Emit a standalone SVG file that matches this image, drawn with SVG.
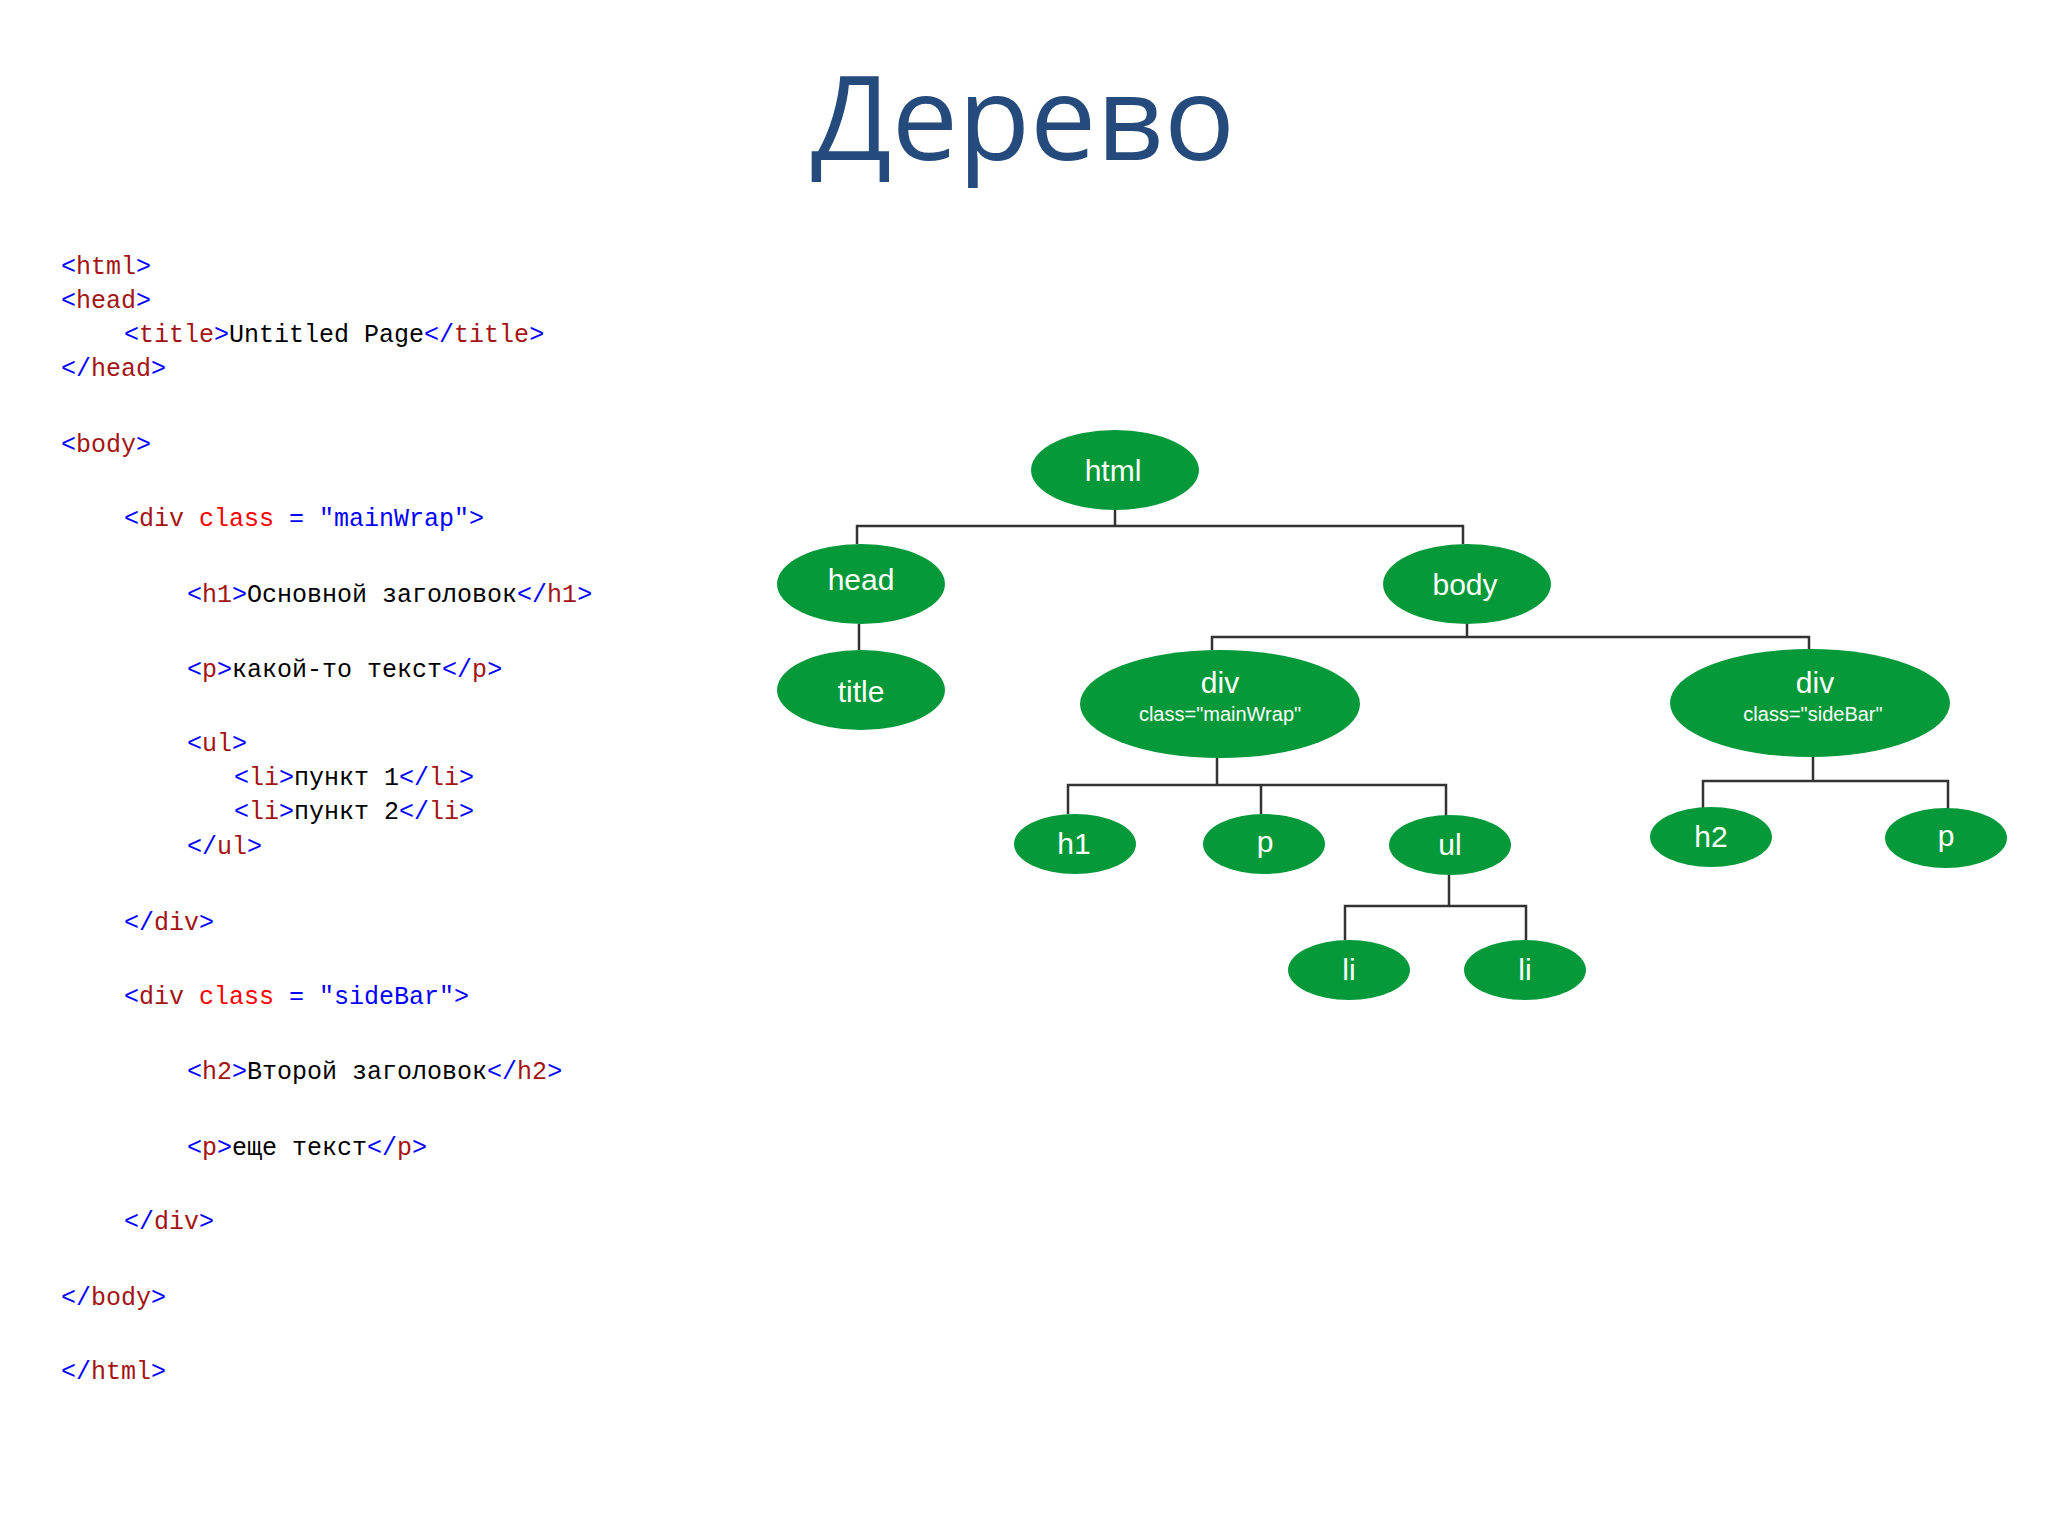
<svg xmlns="http://www.w3.org/2000/svg" width="2048" height="1536" viewBox="0 0 2048 1536">
<style>
.code{font-family:"Liberation Mono","DejaVu Sans Mono",monospace;font-size:25px;fill:#000}
.b{fill:#0000ff}.t{fill:#a31515}.a{fill:#ff0000}
.n ellipse{fill:#05993a}
.n text{font-family:"Liberation Sans",Arial,sans-serif;font-size:30px;fill:#fff;text-anchor:middle}
.n text.s{font-size:20px}
.c path{fill:none;stroke:#333;stroke-width:2.5}
</style>
<rect width="2048" height="1536" fill="#fff"/>
<text x="1023" y="160" font-family="'Open Sans','Noto Sans',sans-serif" font-size="118" fill="#244b7c" text-anchor="middle">Дерево</text>
<g class="code" xml:space="preserve">
<text x="61" y="274"><tspan class="b">&lt;</tspan><tspan class="t">html</tspan><tspan class="b">&gt;</tspan></text>
<text x="61" y="308"><tspan class="b">&lt;</tspan><tspan class="t">head</tspan><tspan class="b">&gt;</tspan></text>
<text x="124" y="342"><tspan class="b">&lt;</tspan><tspan class="t">title</tspan><tspan class="b">&gt;</tspan>Untitled Page<tspan class="b">&lt;/</tspan><tspan class="t">title</tspan><tspan class="b">&gt;</tspan></text>
<text x="61" y="376"><tspan class="b">&lt;/</tspan><tspan class="t">head</tspan><tspan class="b">&gt;</tspan></text>
<text x="61" y="452"><tspan class="b">&lt;</tspan><tspan class="t">body</tspan><tspan class="b">&gt;</tspan></text>
<text x="124" y="526"><tspan class="b">&lt;</tspan><tspan class="t">div</tspan> <tspan class="a">class</tspan> <tspan class="b">= "mainWrap"&gt;</tspan></text>
<text x="187" y="602"><tspan class="b">&lt;</tspan><tspan class="t">h1</tspan><tspan class="b">&gt;</tspan>Основной заголовок<tspan class="b">&lt;/</tspan><tspan class="t">h1</tspan><tspan class="b">&gt;</tspan></text>
<text x="187" y="677"><tspan class="b">&lt;</tspan><tspan class="t">p</tspan><tspan class="b">&gt;</tspan>какой-то текст<tspan class="b">&lt;/</tspan><tspan class="t">p</tspan><tspan class="b">&gt;</tspan></text>
<text x="187" y="751"><tspan class="b">&lt;</tspan><tspan class="t">ul</tspan><tspan class="b">&gt;</tspan></text>
<text x="234" y="785"><tspan class="b">&lt;</tspan><tspan class="t">li</tspan><tspan class="b">&gt;</tspan>пункт 1<tspan class="b">&lt;/</tspan><tspan class="t">li</tspan><tspan class="b">&gt;</tspan></text>
<text x="234" y="819"><tspan class="b">&lt;</tspan><tspan class="t">li</tspan><tspan class="b">&gt;</tspan>пункт 2<tspan class="b">&lt;/</tspan><tspan class="t">li</tspan><tspan class="b">&gt;</tspan></text>
<text x="187" y="854"><tspan class="b">&lt;/</tspan><tspan class="t">ul</tspan><tspan class="b">&gt;</tspan></text>
<text x="124" y="930"><tspan class="b">&lt;/</tspan><tspan class="t">div</tspan><tspan class="b">&gt;</tspan></text>
<text x="124" y="1004"><tspan class="b">&lt;</tspan><tspan class="t">div</tspan> <tspan class="a">class</tspan> <tspan class="b">= "sideBar"&gt;</tspan></text>
<text x="187" y="1079"><tspan class="b">&lt;</tspan><tspan class="t">h2</tspan><tspan class="b">&gt;</tspan>Второй заголовок<tspan class="b">&lt;/</tspan><tspan class="t">h2</tspan><tspan class="b">&gt;</tspan></text>
<text x="187" y="1155"><tspan class="b">&lt;</tspan><tspan class="t">p</tspan><tspan class="b">&gt;</tspan>еще текст<tspan class="b">&lt;/</tspan><tspan class="t">p</tspan><tspan class="b">&gt;</tspan></text>
<text x="124" y="1229"><tspan class="b">&lt;/</tspan><tspan class="t">div</tspan><tspan class="b">&gt;</tspan></text>
<text x="61" y="1305"><tspan class="b">&lt;/</tspan><tspan class="t">body</tspan><tspan class="b">&gt;</tspan></text>
<text x="61" y="1379"><tspan class="b">&lt;/</tspan><tspan class="t">html</tspan><tspan class="b">&gt;</tspan></text>
</g>
<g class="c">
<path d="M1115 510V526M857 544V526H1463V544"/>
<path d="M859 624V650"/>
<path d="M1467 624V637M1212 650V637H1809V650"/>
<path d="M1217 757V785M1068 814V785H1446V816M1261 785V814"/>
<path d="M1813 755V781M1703 810V781H1948V810"/>
<path d="M1449 874V906M1345 940V906H1526V940"/>
</g>
<g id="n-html" class="n"><ellipse cx="1115" cy="470" rx="84" ry="40"/><text x="1113" y="481">html</text></g>
<g id="n-head" class="n"><ellipse cx="861" cy="584" rx="84" ry="40"/><text x="861" y="590">head</text></g>
<g id="n-title" class="n"><ellipse cx="861" cy="690" rx="84" ry="40"/><text x="861" y="702">title</text></g>
<g id="n-body" class="n"><ellipse cx="1467" cy="584" rx="84" ry="40"/><text x="1465" y="595">body</text></g>
<g id="n-div1" class="n"><ellipse cx="1220" cy="704" rx="140" ry="54"/><text x="1220" y="693">div</text><text class="s" x="1220" y="721">class="mainWrap"</text></g>
<g id="n-div2" class="n"><ellipse cx="1810" cy="703" rx="140" ry="54"/><text x="1815" y="693">div</text><text class="s" x="1813" y="721">class="sideBar"</text></g>
<g id="n-h1" class="n"><ellipse cx="1075" cy="844" rx="61" ry="30"/><text x="1074" y="854">h1</text></g>
<g id="n-p1" class="n"><ellipse cx="1264" cy="844" rx="61" ry="30"/><text x="1265" y="852">p</text></g>
<g id="n-ul" class="n"><ellipse cx="1450" cy="845" rx="61" ry="30"/><text x="1450" y="855">ul</text></g>
<g id="n-li1" class="n"><ellipse cx="1349" cy="970" rx="61" ry="30"/><text x="1349" y="980">li</text></g>
<g id="n-li2" class="n"><ellipse cx="1525" cy="970" rx="61" ry="30"/><text x="1525" y="980">li</text></g>
<g id="n-h2" class="n"><ellipse cx="1711" cy="837" rx="61" ry="30"/><text x="1711" y="847">h2</text></g>
<g id="n-p2" class="n"><ellipse cx="1946" cy="838" rx="61" ry="30"/><text x="1946" y="846">p</text></g>
</svg>
